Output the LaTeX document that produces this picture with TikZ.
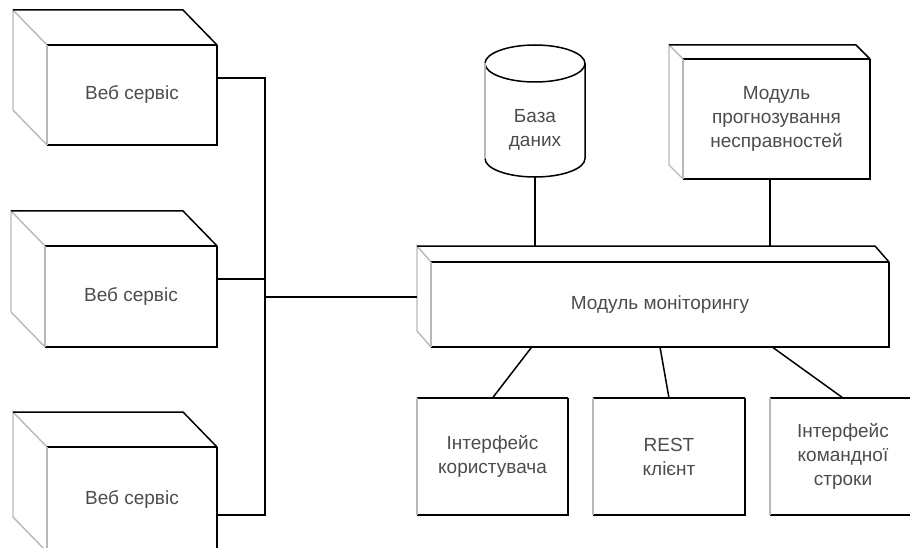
\documentclass[tikz,border=0pt]{standalone}
\usepackage{fontspec}
\setmainfont{Liberation Sans}
\usetikzlibrary{calc}

\definecolor{labelgray}{gray}{0.3}
\definecolor{sidegray}{gray}{0.72}

% back part of a box: node, depth x, depth y
\newcommand{\boxback}[3]{%
  \draw[side] (#1.south west) -- ([shift={(-#2,-#3)}]#1.south west) -- ([shift={(-#2,-#3)}]#1.north west) -- (#1.north west);
  \draw[edge] ([shift={(-#2,-#3)}]#1.north west) -- ([shift={(-#2,-#3)}]#1.north east) -- (#1.north east);
}
% front face of a box
\newcommand{\boxfront}[1]{%
  \draw[edge] (#1.north west) -- (#1.north east);
  \draw[heavy] (#1.north east) -- (#1.south east) -- (#1.south west);
  \draw[side] (#1.south west) -- (#1.north west);
}

\begin{document}
\begin{tikzpicture}[x=1pt,y=-1pt,
  label/.style={font=\fontsize{19}{24}\selectfont, text=labelgray, align=center, inner sep=0pt, outer sep=0pt},
  edge/.style={line width=1.5pt},
  heavy/.style={line width=2.2pt},
  side/.style={sidegray, line width=1.4pt},
  wire/.style={line width=2pt}]
\clip (0,0) rectangle (910,548);

% web services
\node[label, minimum width=170pt, minimum height=100pt] (ws1) at (132,95) {Веб сервіс};
\node[label, minimum width=172pt, minimum height=101pt] (ws2) at (131,296.5) {Веб сервіс};
\node[label, minimum width=170pt, minimum height=105pt] (ws3) at (132,499.5) {Веб сервіс};
\boxback{ws1}{34}{35} \boxfront{ws1}
\boxback{ws2}{34}{35} \boxfront{ws2}
\boxback{ws3}{34}{35} \boxfront{ws3}

% monitoring module
\node[label, minimum width=458pt, minimum height=85pt] (mon) at (660,304.5) {Модуль моніторингу};
\boxback{mon}{14}{16} \boxfront{mon}

% forecasting module
\node[label, minimum width=187pt, minimum height=120pt] (fc) at (776.5,119) {Модуль\\прогнозування\\несправностей};
\boxback{fc}{14}{14} \boxfront{fc}

% database
\node[label, minimum width=100pt, minimum height=95pt] (db) at (535,129.5) {База\\даних};
\draw[edge] ([yshift=18.5pt]db.north) ellipse[x radius=50, y radius=18.5];
\draw[side] ([yshift=18.5pt]db.north west) -- ([yshift=18.5pt]db.south west);
\draw[edge] ([yshift=18.5pt]db.south west) arc[start angle=180, end angle=0, x radius=50, y radius=18.5] -- ([yshift=18.5pt]db.north east);

% clients
\node[label, minimum width=151pt, minimum height=117pt] (ifc) at (492.5,456.5) {Інтерфейс\\користувача};
\node[label, minimum width=152pt, minimum height=117pt] (rest) at (669,456.5) {REST\\клієнт};
\node[label, minimum width=146pt, minimum height=117pt] (cli) at (843,456.5) {Інтерфейс\\командної\\строки};
\boxfront{ifc}
\boxfront{rest}
\boxfront{cli}

% bus
\coordinate (bus1) at (265,78);
\coordinate (bus2) at (265,279);
\coordinate (bus3) at (265,515);
\coordinate (busm) at (265,297);
\coordinate (monin) at (417,297);
\draw[wire] (ws1.east |- bus1) -- (bus1) -- (bus3) -- (ws3.east |- bus3);
\draw[wire] (ws2.east |- bus2) -- (bus2);
\draw[wire] (busm) -- (monin);

% links to monitoring module
\coordinate (montop) at (417,246);
\coordinate (fcfoot) at ([xshift=-7pt]fc.south);
\draw[wire] (db.south) -- (db.south |- montop);
\draw[wire] (fcfoot) -- (fcfoot |- montop);
\draw[edge] ($(mon.south west)!0.22!(mon.south east)$) -- (ifc.north);
\draw[edge] ($(mon.south west)!0.5!(mon.south east)$) -- (rest.north);
\draw[edge] ($(mon.south west)!0.745!(mon.south east)$) -- (cli.north);
\end{tikzpicture}
\end{document}
